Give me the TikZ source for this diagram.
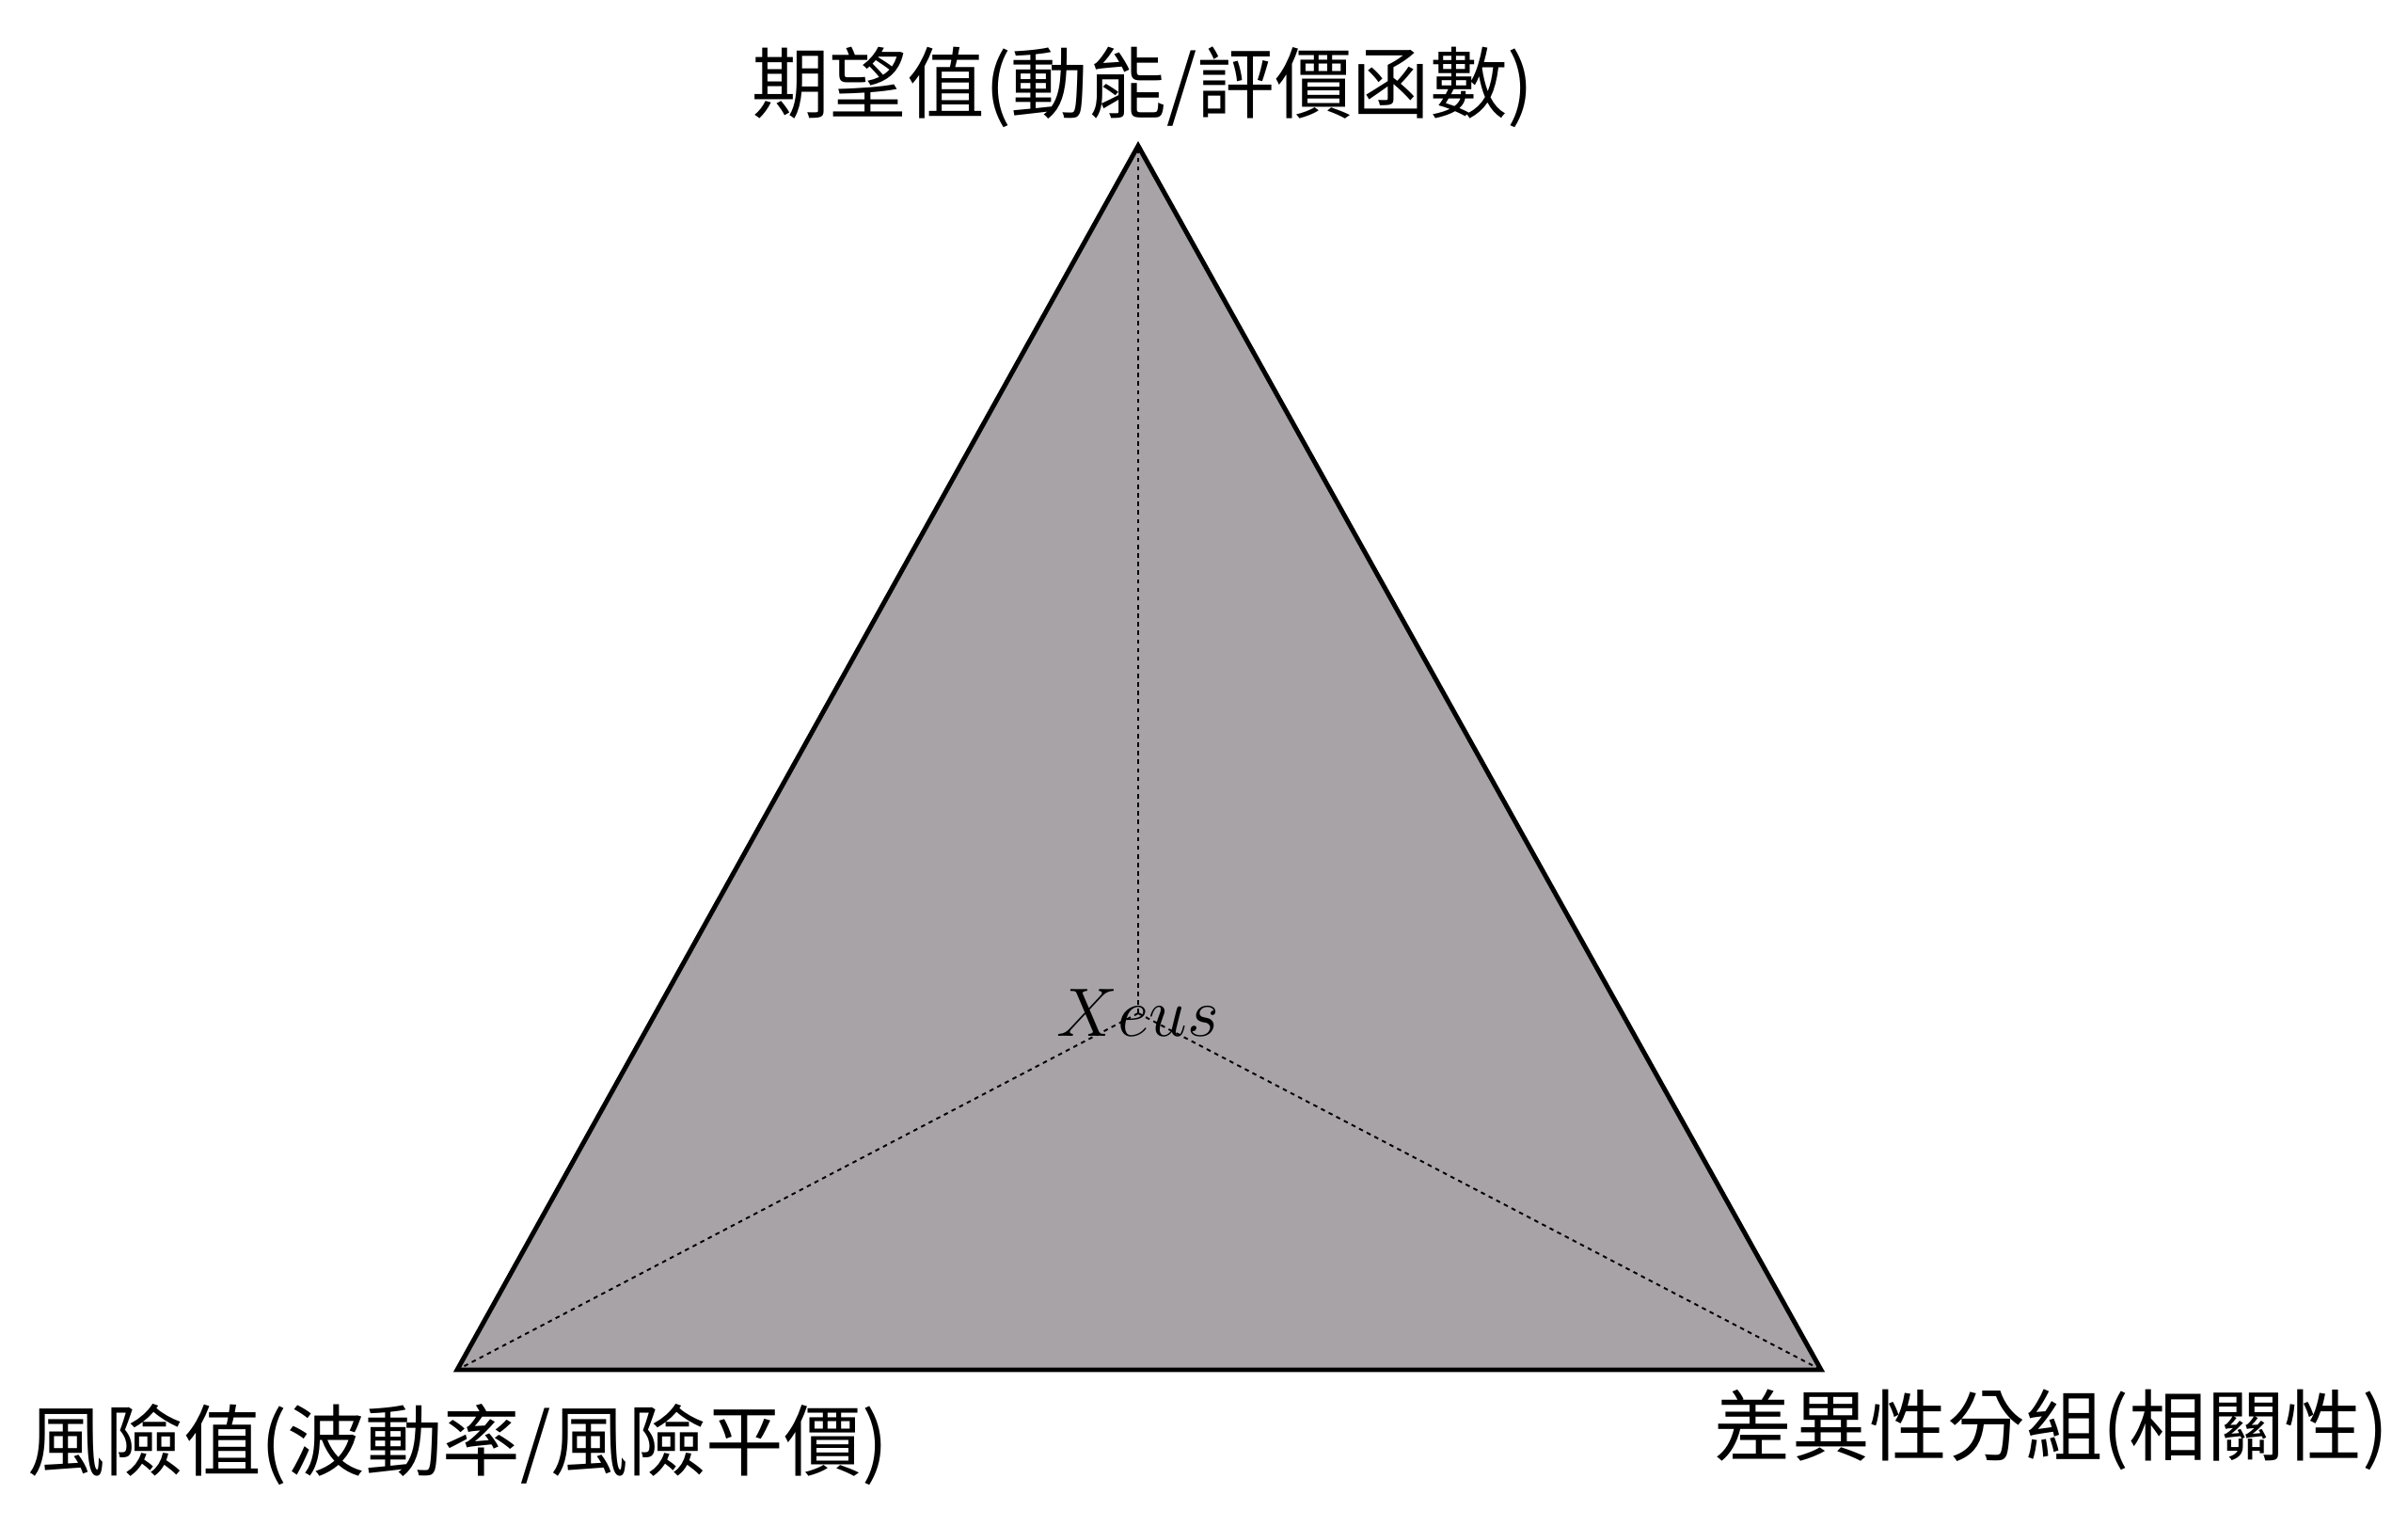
\documentclass[tikz,border=0pt]{standalone}
\usepackage{fontspec}
\usepackage{xcolor}
\newfontfamily\cjk{Noto Sans CJK TC}
\usetikzlibrary{positioning}
\definecolor{triGray}{RGB}{167,163,166}

\begin{document}
\begin{tikzpicture}[
    label/.style={font=\cjk\fontsize{23.5}{28}\selectfont, inner sep=0pt},
    axis/.style={line width=0.55pt, dash pattern=on 1.3pt off 1.3pt}]
  \useasboundingbox (0,0) rectangle (25.6,16.21);
    \coordinate (ev) at (12.10,14.66);
    \coordinate (risk) at (4.86,1.65);
    \coordinate (div) at (19.36,1.65);
    \coordinate (c) at (12.10,5.44);

    \filldraw[fill=triGray, line width=1.4pt, line join=miter] (ev) -- (risk) -- (div) -- cycle;
    \draw[axis] (c) -- (ev);
    \draw[axis] (c) -- (risk);
    \draw[axis] (c) -- (div);

    \node (xeus) at (c) {\huge $Xeus$};
	\node[label] (evLbl) at (12.15,15.28) {期望值(動能/評價函數)};
	\node[label] (riskLbl) at (4.87,0.85) {風險值(波動率/風險平價)};
    \node[label] (divLbl) at (21.81,1.01) {差異性分組(相關性)};
\end{tikzpicture}
\end{document}
